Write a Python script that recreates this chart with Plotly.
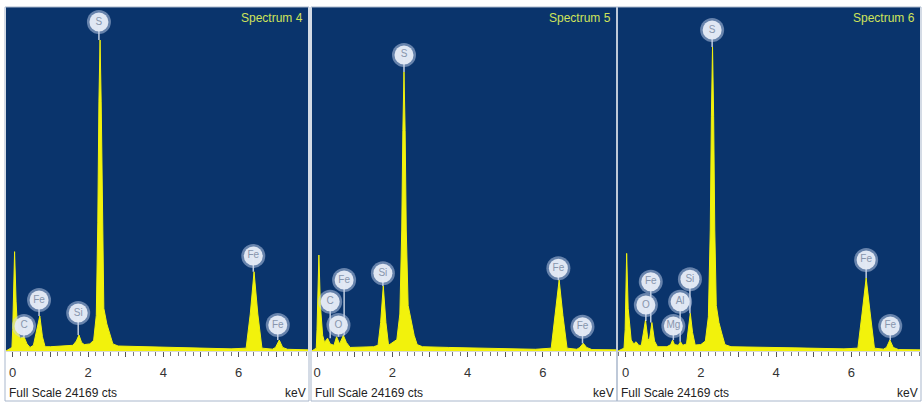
import plotly.graph_objects as go

# ---------------- data ----------------
full_scale = 24169
titles = ["Spectrum 4", "Spectrum 5", "Spectrum 6"]
tick_vals = [0, 1, 2, 3, 4, 5, 6, 7]
tick_text = ["0", "", "2", "", "4", "", "6", ""]

# Spectrum 4: energy (keV) and counts
s4_kev = [-0.18, -0.02, 0.0, 0.02, 0.05, 0.09, 0.13, 0.2, 0.3, 0.38, 0.46, 0.55, 0.62, 0.72, 0.79, 0.86,
          1.0, 1.3, 1.6, 1.69, 1.76, 1.83, 1.9, 2.05, 2.15, 2.22, 2.26, 2.29, 2.32, 2.35, 2.38, 2.42,
          2.5, 2.58, 2.66, 2.8, 3.5, 4.5, 5.8, 6.2, 6.31, 6.41, 6.51, 6.62, 6.9, 6.98, 7.08, 7.17, 7.3, 7.85]
s4_cts = [0, 250, 1500, 4000, 6980, 3500, 1400, 900, 1000, 500, 250, 400, 1200, 2460, 1000, 300,
          300, 350, 400, 700, 1120, 600, 450, 500, 750, 2500, 9000, 17500, 21850, 17500, 9000, 3000,
          1900, 1200, 500, 350, 300, 250, 150, 200, 2600, 5570, 2600, 200, 130, 250, 770, 250, 120, 80]

# Spectrum 5
s5_kev = [-0.14, -0.02, 0.0, 0.02, 0.05, 0.09, 0.15, 0.2, 0.28, 0.35, 0.45, 0.52, 0.6, 0.7, 0.78, 0.88,
          1.2, 1.5, 1.62, 1.69, 1.76, 1.83, 1.9, 2.0, 2.12, 2.2, 2.25, 2.28, 2.31, 2.34, 2.37, 2.42,
          2.5, 2.58, 2.66, 2.8, 3.5, 4.5, 5.8, 6.22, 6.33, 6.43, 6.53, 6.64, 6.9, 6.98, 7.07, 7.16, 7.3, 7.95]
s5_cts = [0, 200, 1500, 4000, 6745, 3200, 1100, 600, 900, 500, 400, 1000, 500, 1100, 600, 250,
          250, 300, 400, 2000, 4570, 2000, 400, 560, 800, 2600, 8500, 15500, 19600, 15500, 8500, 3200,
          2000, 1100, 450, 300, 250, 200, 120, 200, 2500, 4990, 2500, 200, 120, 250, 540, 250, 100, 80]

# Spectrum 6
s6_kev = [-0.2, -0.04, -0.01, 0.0, 0.03, 0.07, 0.15, 0.22, 0.28, 0.35, 0.42, 0.47, 0.53, 0.59, 0.63, 0.7,
          0.77, 0.85, 1.1, 1.2, 1.25, 1.3, 1.4, 1.46, 1.52, 1.62, 1.67, 1.72, 1.78, 1.85, 2.0, 2.12,
          2.2, 2.25, 2.28, 2.31, 2.34, 2.37, 2.41, 2.48, 2.56, 2.64, 2.8, 3.5, 4.5, 5.8, 6.17, 6.28,
          6.39, 6.5, 6.61, 6.85, 6.93, 7.02, 7.11, 7.25, 7.82]
s6_cts = [0, 200, 1500, 4000, 6860, 3000, 770, 500, 650, 400, 400, 1200, 2180, 900, 700, 2000,
          700, 300, 300, 450, 770, 450, 400, 650, 400, 500, 1500, 2650, 1300, 420, 450, 700,
          2400, 8500, 16500, 21360, 16500, 8500, 3200, 2000, 1200, 450, 300, 280, 220, 150, 200, 2600,
          5130, 2600, 200, 130, 250, 770, 250, 100, 80]

# element labels: name, energy of the label, label height (cts), top of the peak it marks (cts)
s4_lab = ["C", "Fe", "Si", "S", "Fe", "Fe"]
s4_lab_kev = [0.30, 0.70, 1.74, 2.29, 6.39, 7.04]
s4_lab_cts = [1757, 3583, 2670, 23115, 6675, 1827]
s4_lab_top = [1000, 2460, 1120, 21850, 5570, 770]

s5_lab = ["C", "O", "Fe", "Si", "S", "Fe", "Fe"]
s5_lab_kev = [0.35, 0.57, 0.72, 1.75, 2.31, 6.41, 7.05]
s5_lab_cts = [3464, 1827, 4988, 5459, 20797, 5810, 1707]
s5_lab_top = [900, 1000, 1100, 4570, 19600, 4990, 540]

s6_lab = ["O", "Fe", "Mg", "Al", "Si", "S", "Fe", "Fe"]
s6_lab_kev = [0.54, 0.67, 1.27, 1.45, 1.71, 2.30, 6.39, 7.03]
s6_lab_cts = [3232, 4869, 1757, 3464, 5038, 22553, 6394, 1757]
s6_lab_top = [2100, 2000, 770, 650, 2650, 21360, 5130, 770]

spectra = [(s4_kev, s4_cts, s4_lab, s4_lab_kev, s4_lab_cts, s4_lab_top),
           (s5_kev, s5_cts, s5_lab, s5_lab_kev, s5_lab_cts, s5_lab_top),
           (s6_kev, s6_cts, s6_lab, s6_lab_kev, s6_lab_cts, s6_lab_top)]

# ---------------- layout constants ----------------
W, H = 922, 402
BLUE = "#0a346c"
YELLOW = "#f2f20c"
panel_px = [(6, 308), (312, 616), (618, 920)]
x_ranges = [[-0.178, 7.843], [-0.133, 7.94], [-0.2, 7.82]]
y_dom = [51 / H, 395 / H]

fig = go.Figure()
layout = dict(width=W, height=H, margin=dict(l=0, r=0, t=0, b=0),
              paper_bgcolor="white", showlegend=False,
              font=dict(family="Liberation Sans, Arial, sans-serif"))
annotations = []
shapes = []

for i, (kev, cts, lab, lkev, lcts, ltop) in enumerate(spectra):
    n = "" if i == 0 else str(i + 1)
    xa, ya = "x" + n, "y" + n
    x0p, x1p = panel_px[i]
    layout["xaxis" + n] = dict(
        domain=[x0p / W, x1p / W], range=x_ranges[i], anchor=ya,
        tickmode="array", tickvals=tick_vals, ticktext=tick_text,
        ticks="outside", ticklen=5, tickwidth=1, tickcolor="#555",
        ticklabelstandoff=4,
        tickfont=dict(size=13, color="#333"),
        minor=dict(tickmode="linear", tick0=0, dtick=0.2, ticks="outside",
                   ticklen=4, tickcolor="#777", tickwidth=1),
        showgrid=False, zeroline=False, showline=True, linecolor="#d8d8d8",
        linewidth=1, fixedrange=True)
    layout["yaxis" + n] = dict(
        domain=y_dom, range=[0, full_scale], anchor=xa, visible=False,
        showgrid=False, zeroline=False, fixedrange=True)

    # blue plot background
    shapes.append(dict(type="rect", xref="paper", yref="paper",
                       x0=x0p / W, x1=x1p / W, y0=y_dom[0], y1=y_dom[1],
                       fillcolor=BLUE, line=dict(width=0), layer="below"))

    fig.add_trace(go.Scatter(x=kev, y=cts, xaxis=xa, yaxis=ya, mode="lines",
                             line=dict(color=YELLOW, width=1), fill="tozeroy",
                             fillcolor=YELLOW, hoverinfo="skip"))

    # stems from labels down to the peaks
    sx, sy = [], []
    for e, c, t in zip(lkev, lcts, ltop):
        sx += [e, e, None]
        sy += [c, t, None]
    fig.add_trace(go.Scatter(x=sx, y=sy, xaxis=xa, yaxis=ya, mode="lines",
                             line=dict(color="rgba(225,232,242,0.85)", width=1.5),
                             hoverinfo="skip"))
    # label discs (soft halo + core)
    fig.add_trace(go.Scatter(x=lkev, y=lcts, xaxis=xa, yaxis=ya, mode="markers",
                             marker=dict(size=24, color="rgba(195,210,235,0.5)",
                                         line=dict(width=0)), hoverinfo="skip"))
    fig.add_trace(go.Scatter(x=lkev, y=lcts, xaxis=xa, yaxis=ya, mode="markers+text",
                             marker=dict(size=19, color="rgba(228,234,245,0.97)",
                                         line=dict(width=0)),
                             text=lab, textposition="middle center",
                             textfont=dict(size=10, color="#8896ad"), hoverinfo="skip"))

    # title
    annotations.append(dict(text=titles[i], xref="paper", yref="paper",
                            x=(x1p - 3) / W, y=(H - 18) / H, xanchor="right",
                            yanchor="middle", showarrow=False,
                            font=dict(size=12, color="#cfe35a")))
    # bottom captions
    annotations.append(dict(text="Full Scale " + str(full_scale) + " cts", xref="paper",
                            yref="paper", x=(x0p + 1) / W, y=(H - 393) / H,
                            xanchor="left", yanchor="middle", showarrow=False,
                            font=dict(size=12, color="#222")))
    annotations.append(dict(text="keV", xref="paper", yref="paper",
                            x=x1p / W, y=(H - 393) / H, xanchor="right",
                            yanchor="middle", showarrow=False,
                            font=dict(size=12, color="#222")))
    # panel frame
    shapes.append(dict(type="rect", xref="paper", yref="paper",
                       x0=(x0p - 1) / W, x1=(x1p + 1) / W, y0=1 / H, y1=y_dom[1],
                       line=dict(color="#a9b7cc", width=1), layer="above"))

layout["annotations"] = annotations
layout["shapes"] = shapes
fig.update_layout(**layout)
fig.write_html("out.html", config={"displayModeBar": False, "staticPlot": True})

# remove the default page margin so the figure sits at the window's corner
with open("out.html", encoding="utf-8") as f:
    page = f.read()
page = page.replace("<body>", '<body style="margin:0;padding:0;overflow:hidden">', 1)
page = page.replace("<head>", "<head><style>html,body{margin:0;padding:0;}</style>", 1)
with open("out.html", "w", encoding="utf-8") as f:
    f.write(page)
